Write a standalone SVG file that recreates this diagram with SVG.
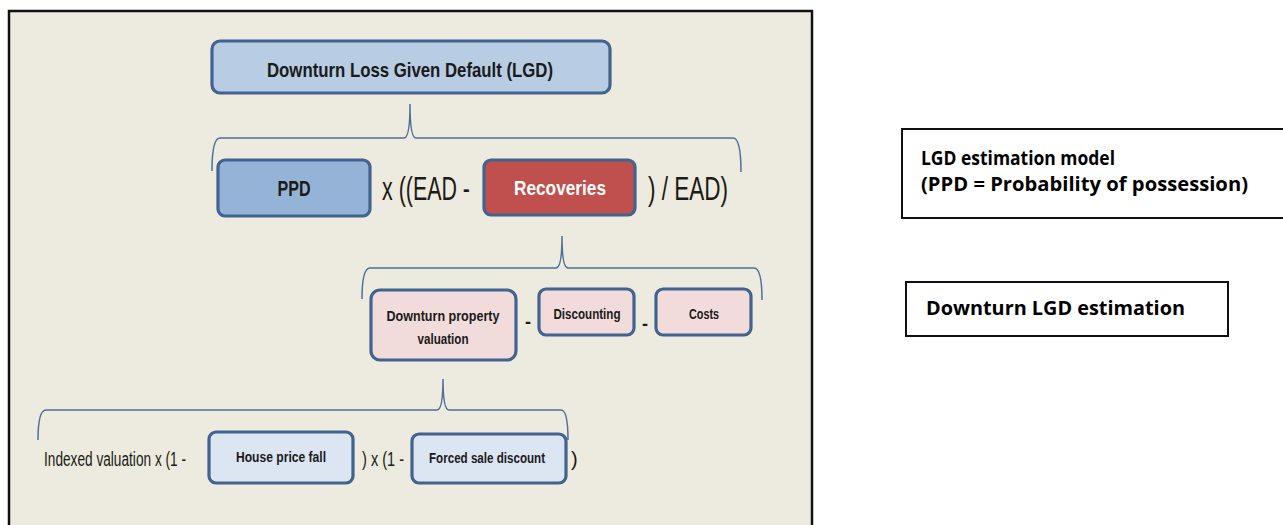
<svg xmlns="http://www.w3.org/2000/svg" width="1283" height="525" viewBox="0 0 1283 525">
<style>
.box{stroke:#41638F;stroke-width:3.2}
.brace{fill:none;stroke:#4F6F96;stroke-width:1.5}
.t{font-family:"Liberation Sans",Arial,sans-serif;fill:#1a1a1a}
.b{font-weight:bold}
.op{font-family:"Liberation Sans",Arial,sans-serif;fill:#1c1a14}
.leg{font-family:"Open Sans","Liberation Sans",Arial,sans-serif;font-weight:bold;fill:#000;font-size:19px}
</style>
<rect x="0" y="0" width="1283" height="525" fill="#ffffff"/>
<g id="panel">
<rect x="9" y="11" width="803" height="530" fill="#EDEADF" stroke="#111" stroke-width="2.5"/>
</g>
<g id="connectors">
<path class="brace" d="M212,171 Q212,138 220,138 L404,138 Q410,138 410,104 Q410,138 416,138 L733,138 Q741,138 741,172"/>
<path class="brace" d="M362,299 Q362,268 370,268 L556,268 Q562,268 562,236 Q562,268 568,268 L754,268 Q762,268 762,300"/>
<path class="brace" d="M38,440 Q38,410 46,410 L437,410 Q443,410 443,379 Q443,410 449,410 L561,410 Q568,410 568,440"/>
</g>
<g id="n-title">
<rect class="box" x="212" y="41" width="398" height="52" rx="8" fill="#B8CCE4"/>
<text class="t b" x="410" y="77" font-size="21" text-anchor="middle" textLength="286" lengthAdjust="spacingAndGlyphs">Downturn Loss Given Default (LGD)</text>
</g>
<g id="n-ppd">
<rect class="box" x="218" y="160" width="152" height="56" rx="7" fill="#95B3D7"/>
<text class="t b" x="294" y="196" font-size="22" text-anchor="middle" textLength="33" lengthAdjust="spacingAndGlyphs">PPD</text>
</g>
<text class="op" x="382" y="200" font-size="34" textLength="88" lengthAdjust="spacingAndGlyphs">x ((EAD  -</text>
<g id="n-recoveries">
<rect class="box" x="484" y="160" width="151" height="55" rx="7" fill="#C0504D"/>
<text x="560" y="195" font-family="Liberation Sans,Arial,sans-serif" font-weight="bold" font-size="21" fill="#fff" text-anchor="middle" textLength="92" lengthAdjust="spacingAndGlyphs">Recoveries</text>
</g>
<text class="op" x="648" y="200" font-size="34" textLength="80" lengthAdjust="spacingAndGlyphs">) / EAD)</text>
<g id="n-dpv">
<rect class="box" x="371" y="290" width="145" height="70" rx="9" fill="#F2DCDB"/>
<text class="t b" x="443" y="321" font-size="15" text-anchor="middle" textLength="113" lengthAdjust="spacingAndGlyphs">Downturn property</text>
<text class="t b" x="443" y="344" font-size="15" text-anchor="middle" textLength="51" lengthAdjust="spacingAndGlyphs">valuation</text>
</g>
<text class="op b" x="528" y="328" font-size="18" text-anchor="middle">-</text>
<g id="n-discounting">
<rect class="box" x="539" y="289" width="95" height="46" rx="7" fill="#F2DCDB"/>
<text class="t b" x="587" y="319" font-size="15" text-anchor="middle" textLength="67" lengthAdjust="spacingAndGlyphs">Discounting</text>
</g>
<text class="op b" x="645" y="330" font-size="18" text-anchor="middle">-</text>
<g id="n-costs">
<rect class="box" x="656" y="289" width="95" height="46" rx="7" fill="#F2DCDB"/>
<text class="t b" x="704" y="319" font-size="15" text-anchor="middle" textLength="30" lengthAdjust="spacingAndGlyphs">Costs</text>
</g>
<text class="op" x="44" y="466" font-size="20" fill="#2a2620" textLength="142" lengthAdjust="spacingAndGlyphs">Indexed valuation x (1 -</text>
<g id="n-hpf">
<rect class="box" x="209" y="432" width="144" height="51" rx="7" fill="#DCE6F2"/>
<text class="t b" x="281" y="462" font-size="15" text-anchor="middle" textLength="90" lengthAdjust="spacingAndGlyphs">House price fall</text>
</g>
<text class="op" x="362" y="466" font-size="20" fill="#2a2620" textLength="42" lengthAdjust="spacingAndGlyphs">) x (1 -</text>
<g id="n-fsd">
<rect class="box" x="412" y="434" width="154" height="49" rx="7" fill="#DCE6F2"/>
<text class="t b" x="487" y="463" font-size="15" text-anchor="middle" textLength="116" lengthAdjust="spacingAndGlyphs">Forced sale discount</text>
</g>
<text class="op" x="571" y="466" font-size="20" fill="#2a2620">)</text>
<g id="legend-model">
<rect x="902" y="129" width="390" height="89" fill="#fff" stroke="#111" stroke-width="2"/>
<text class="leg" x="921" y="165" textLength="194" lengthAdjust="spacingAndGlyphs">LGD estimation model</text>
<text class="leg" x="921" y="191" textLength="327" lengthAdjust="spacingAndGlyphs">(PPD = Probability of possession)</text>
</g>
<g id="legend-downturn">
<rect x="906" y="282" width="322" height="54" fill="#fff" stroke="#111" stroke-width="2"/>
<text class="leg" x="926" y="315" textLength="259" lengthAdjust="spacingAndGlyphs">Downturn LGD estimation</text>
</g>
</svg>
